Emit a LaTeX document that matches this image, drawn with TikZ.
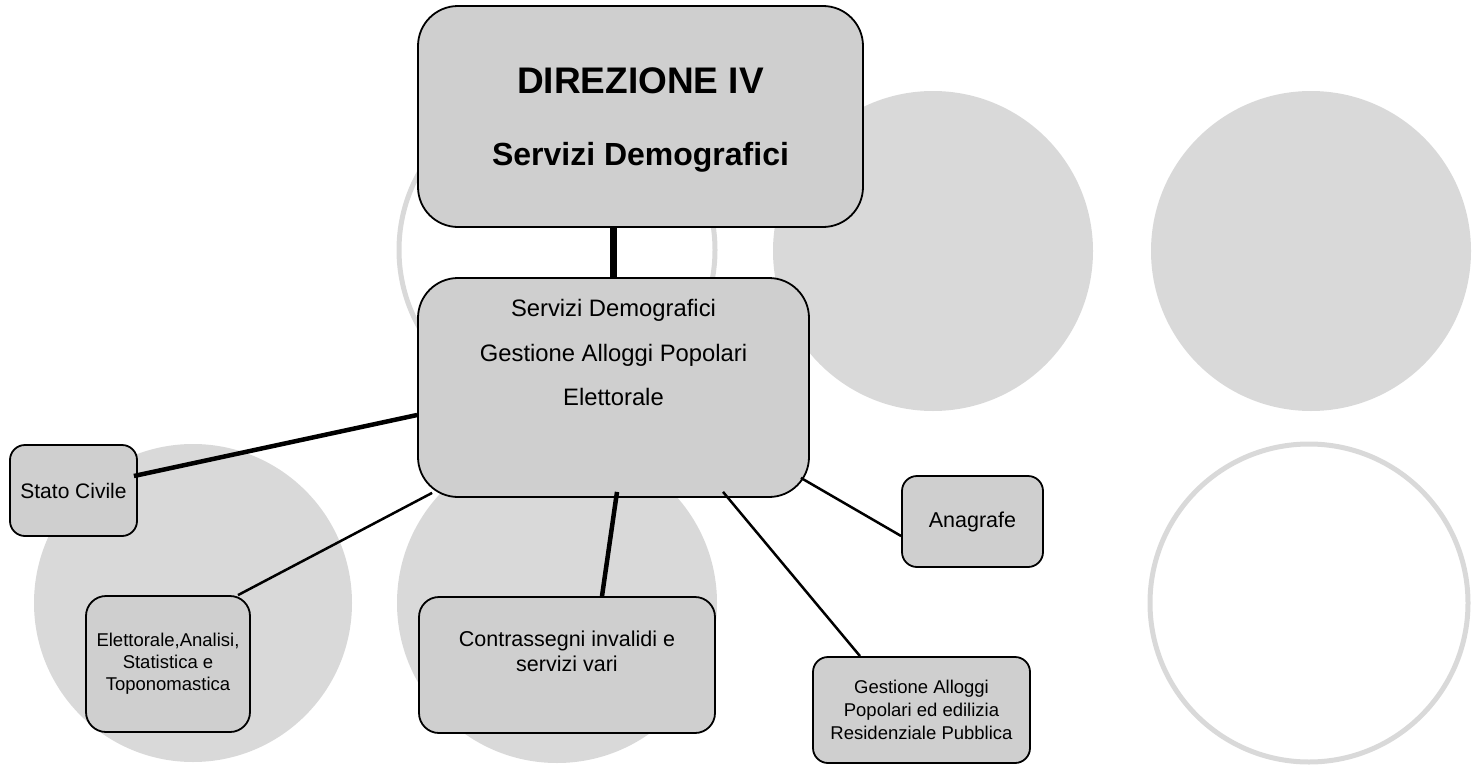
\documentclass[tikz,border=0pt]{standalone}
\usepackage{fontspec}
\setmainfont{Liberation Sans}
\definecolor{discgray}{RGB}{217,217,217}
\definecolor{boxgray}{RGB}{207,207,207}

\tikzset{
    disc/.style={fill=discgray},
    ring/.style={draw=discgray, line width=5pt},
    box/.style={draw, line width=1.8pt, fill=boxgray, rounded corners=#1, align=center, inner sep=0pt},
    box/.default=15pt,
    link/.style={line width=2.5pt},
    heavylink/.style={line width=4.5pt},
    trunk/.style={line width=7pt}
}

\begin{document}
\begin{tikzpicture}[x=1pt, y=-1pt]
    \useasboundingbox (0, 0) rectangle (1481, 771);
    \fill [disc] (933, 251) circle (160pt);
    \fill [disc] (1311, 251) circle (160pt);
    \fill [disc] (193, 603) circle (159pt);
    \fill [disc] (557, 603) circle (160pt);
    \draw [ring] (557, 250) circle (158pt);
    \draw [ring] (1309, 603) circle (159pt);
    \node [box=40pt, minimum width=445pt, minimum height=221pt, text depth=0pt, font=\bfseries\fontsize{32}{72}\selectfont] (dir) at (640.5, 116.5) {\fontsize{37}{37}\selectfont DIREZIONE IV\\Servizi Demografici};
    \node [box=40pt, minimum width=391pt, minimum height=219pt, text depth=69.4pt, font=\fontsize{23.8}{44.5}\selectfont] (mid) at (613.5, 387.5) {Servizi Demografici\\Gestione Alloggi Popolari\\Elettorale};
    \node [box, minimum width=127pt, minimum height=91pt, font=\fontsize{21}{25}\selectfont] (stato) at (73.5, 490.5) {Stato Civile};
    \node [box=20pt, minimum width=164pt, minimum height=136pt, font=\fontsize{18.5}{22}\selectfont] (elet) at (168, 664) {Elettorale,Analisi,\\Statistica e\\Toponomastica};
    \node [box=20pt, minimum width=296pt, minimum height=136pt, text depth=26.7pt, font=\fontsize{21.5}{25}\selectfont] (contr) at (567, 665) {Contrassegni invalidi e\\servizi vari};
    \node [box, minimum width=141pt, minimum height=91pt, font=\fontsize{21.5}{25}\selectfont] (anag) at (972.5, 521.5) {Anagrafe};
    \node [box, minimum width=217pt, minimum height=106pt, font=\fontsize{18.5}{23}\selectfont] (gest) at (921.5, 710) {Gestione Alloggi\\Popolari ed edilizia\\Residenziale Pubblica};
    \draw [trunk] (dir.south -| mid.north) -- (mid.north);
    \draw [heavylink] ([yshift=-27.5pt]mid.west) -- ([xshift=-4pt, yshift=14.5pt]stato.east);
    \draw [link] ([xshift=15pt, yshift=5pt]mid.south west) -- ([xshift=70pt]elet.north);
    \draw [heavylink] ([xshift=3.5pt, yshift=6pt]mid.south) -- ([xshift=35pt]contr.north);
    \draw [link] ([xshift=109.5pt, yshift=6pt]mid.south) -- ([xshift=-61.5pt]gest.north);
    \draw [link] ([xshift=-9pt, yshift=20pt]mid.south east) -- ([yshift=-14.5pt]anag.west);
\end{tikzpicture}
\end{document}
